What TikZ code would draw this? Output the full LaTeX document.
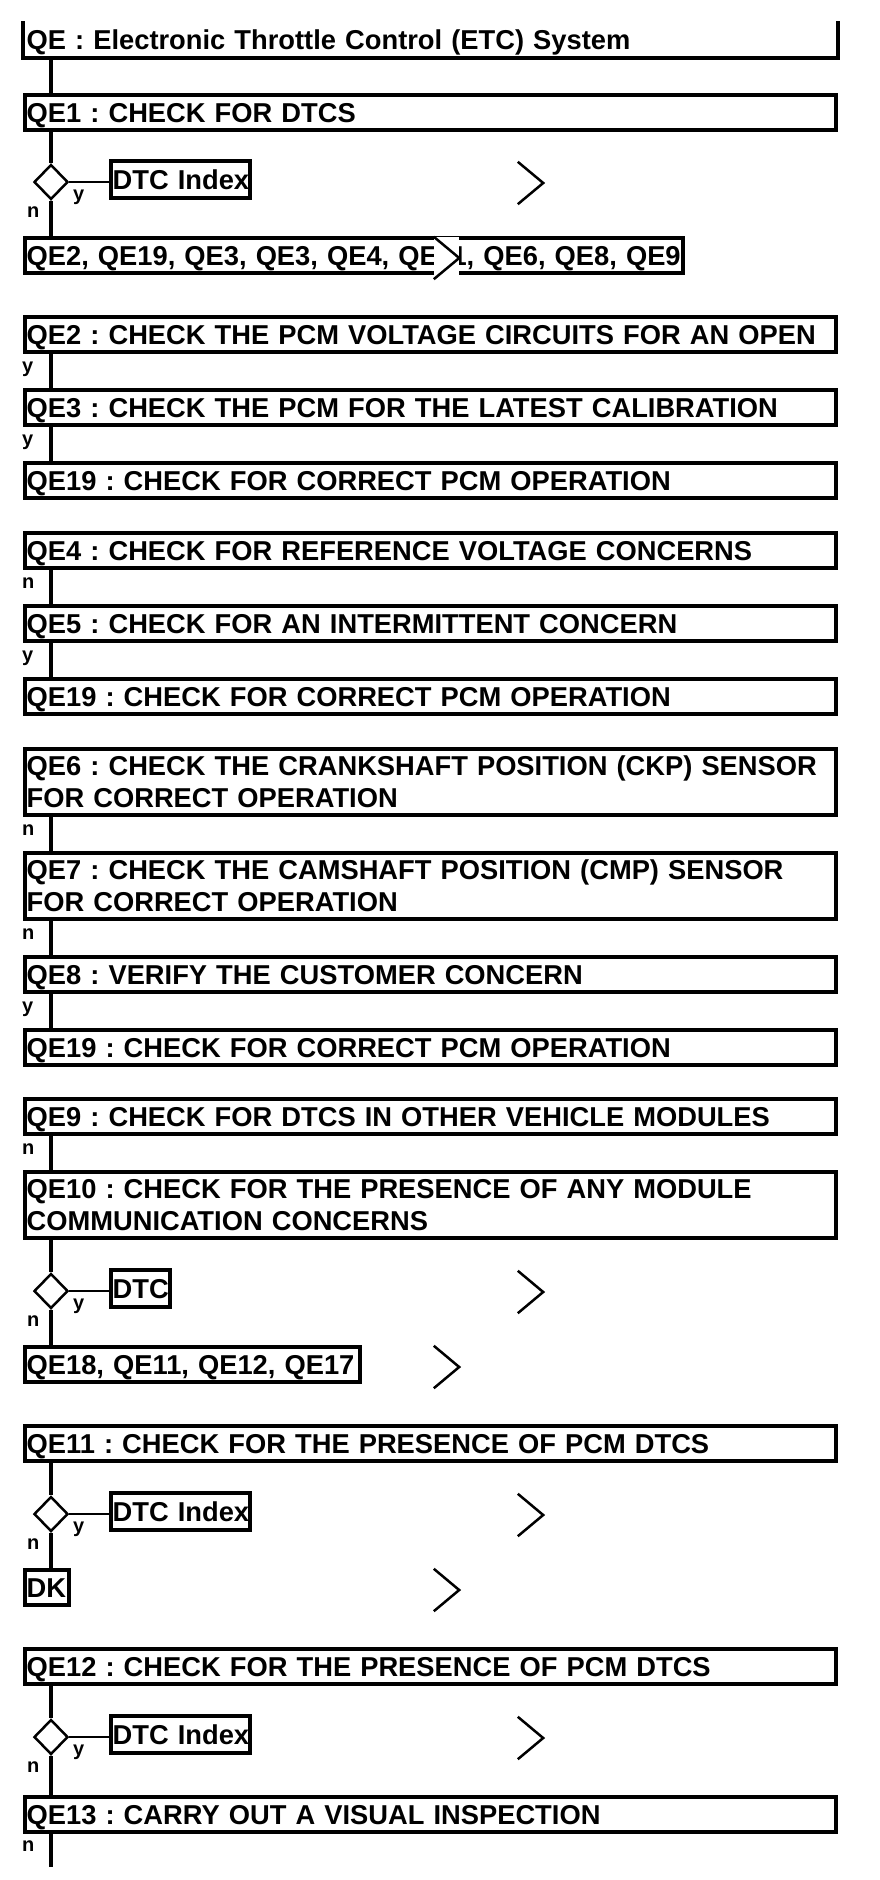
\documentclass[tikz,border=0pt]{standalone}
\usepackage{fontspec}
\setmainfont{Liberation Sans}
\usetikzlibrary{shapes.geometric}
\newcommand\boxfont{\fontsize{27.3pt}{32pt}\selectfont\bfseries\frenchspacing\hyphenpenalty=10000\relax}
\newcommand\labfont{\fontsize{20pt}{22pt}\selectfont\bfseries}
\tikzset{
 bx/.style={draw=black, line width=4.3pt, inner xsep=1.5pt, inner ysep=0pt, align=left, anchor=north west, font=\boxfont, text height=19.5pt, text depth=0pt, minimum height=35pt},
 bxtwo/.style={bx, minimum height=66pt, text depth=32pt},
 full/.style={text width=808pt},
 dia/.style={diamond, draw=black, line width=2.5pt, minimum width=34pt, minimum height=35pt, inner sep=0pt, fill=white},
 conn/.style={line width=3.8pt},
 hline/.style={line width=2.5pt},
 chev/.style={fill=white, minimum width=25pt, minimum height=42pt, inner sep=0pt},
 chevline/.style={line width=2.5pt, line join=miter},
 lab/.style={font=\labfont, inner sep=0pt, anchor=base west},
}
\begin{document}
\begin{tikzpicture}[x=1pt,y=-1pt]
\fill[white] (0,0) rectangle (880,1880);
\coordinate (sp) at (51,0);

% title (open top)
\node[bx, full, draw=none, minimum height=33pt] (t) at (23,21) {QE : Electronic Throttle Control (ETC) System};
\draw[line width=4.3pt] (t.north west) -- (t.south west) -- (t.south east) -- (t.north east);

% QE1 block
\node[bx, full] (qe1) at (23,93) {QE1 : CHECK FOR DTCS};
\node[dia] (d1) at (51,182) {};
\node[bx, anchor=west, text width=136pt, minimum height=37pt] (dtc1) at (109,179.5) {\mbox{DTC Index}};
\node[bx, text width=655pt] (l1) at (23,236) {\mbox{QE2, QE19, QE3, QE3, QE4, QE11, QE6, QE8, QE9}};
\draw[conn] (t.south -| sp) -- (qe1.north -| sp);
\draw[conn] (qe1.south -| sp) -- (d1.north);
\draw[conn] (d1.south) -- (l1.north -| sp);
\draw[hline] (d1.east) -- (d1.east -| dtc1.west);
\node[lab] (ly1) at (73,200) {y};
\node[lab] (ln1) at (27,217) {n};
\node[chev] (ca1) at (530.5,183) {};
\draw[chevline] (ca1.north west) -- (ca1.east) -- (ca1.south west);
\node[chev] (cb1) at (446.5,258) {};
\draw[chevline] (cb1.north west) -- (cb1.east) -- (cb1.south west);

% QE2 group
\node[bx, full] (qe2) at (23,315) {QE2 : CHECK THE PCM VOLTAGE CIRCUITS FOR AN OPEN};
\node[bx, full] (qe3) at (23,388) {QE3 : CHECK THE PCM FOR THE LATEST CALIBRATION};
\node[bx, full] (qe19a) at (23,461) {QE19 : CHECK FOR CORRECT PCM OPERATION};
\draw[conn] (qe2.south -| sp) -- (qe3.north -| sp);
\draw[conn] (qe3.south -| sp) -- (qe19a.north -| sp);
\node[lab] (ly2) at (22,372) {y};
\node[lab] (ly3) at (22,445) {y};

% QE4 group
\node[bx, full] (qe4) at (23,531) {QE4 : CHECK FOR REFERENCE VOLTAGE CONCERNS};
\node[bx, full] (qe5) at (23,604) {QE5 : CHECK FOR AN INTERMITTENT CONCERN};
\node[bx, full] (qe19b) at (23,677) {QE19 : CHECK FOR CORRECT PCM OPERATION};
\draw[conn] (qe4.south -| sp) -- (qe5.north -| sp);
\draw[conn] (qe5.south -| sp) -- (qe19b.north -| sp);
\node[lab] (ln4) at (22,588) {n};
\node[lab] (ly5) at (22,661) {y};

% QE6 group
\node[bxtwo, full] (qe6) at (23,747) {QE6 : CHECK THE CRANKSHAFT POSITION (CKP) SENSOR\\FOR CORRECT OPERATION};
\node[bxtwo, full] (qe7) at (23,851) {QE7 : CHECK THE CAMSHAFT POSITION (CMP) SENSOR\\FOR CORRECT OPERATION};
\node[bx, full] (qe8) at (23,955) {QE8 : VERIFY THE CUSTOMER CONCERN};
\node[bx, full] (qe19c) at (23,1028) {QE19 : CHECK FOR CORRECT PCM OPERATION};
\draw[conn] (qe6.south -| sp) -- (qe7.north -| sp);
\draw[conn] (qe7.south -| sp) -- (qe8.north -| sp);
\draw[conn] (qe8.south -| sp) -- (qe19c.north -| sp);
\node[lab] (ln6) at (22,835) {n};
\node[lab] (ln7) at (22,939) {n};
\node[lab] (ly8) at (22,1012) {y};

% QE9 group
\node[bx, full] (qe9) at (23,1097) {QE9 : CHECK FOR DTCS IN OTHER VEHICLE MODULES};
\node[bxtwo, full] (qe10) at (23,1170) {QE10 : CHECK FOR THE PRESENCE OF ANY MODULE\\COMMUNICATION CONCERNS};
\node[dia] (d2) at (51,1291) {};
\node[bx, anchor=west, text width=56pt, minimum height=37pt] (dtc2) at (109,1288.5) {\mbox{DTC}};
\node[bx, text width=332pt] (l2) at (23,1345) {\mbox{QE18, QE11, QE12, QE17}};
\draw[conn] (qe9.south -| sp) -- (qe10.north -| sp);
\draw[conn] (qe10.south -| sp) -- (d2.north);
\draw[conn] (d2.south) -- (l2.north -| sp);
\draw[hline] (d2.east) -- (d2.east -| dtc2.west);
\node[lab] (ln9) at (22,1154) {n};
\node[lab] (ly10) at (73,1309) {y};
\node[lab] (ln10) at (27,1326) {n};
\node[chev] (ca2) at (530.5,1292) {};
\draw[chevline] (ca2.north west) -- (ca2.east) -- (ca2.south west);
\node[chev] (cb2) at (446.5,1367) {};
\draw[chevline] (cb2.north west) -- (cb2.east) -- (cb2.south west);

% QE11 group
\node[bx, full] (qe11) at (23,1424) {QE11 : CHECK FOR THE PRESENCE OF PCM DTCS};
\node[dia] (d3) at (51,1514) {};
\node[bx, anchor=west, text width=136pt, minimum height=37pt] (dtc3) at (109,1511.5) {\mbox{DTC Index}};
\node[bx, text width=41pt] (dk) at (23,1568) {\mbox{DK}};
\draw[conn] (qe11.south -| sp) -- (d3.north);
\draw[conn] (d3.south) -- (dk.north -| sp);
\draw[hline] (d3.east) -- (d3.east -| dtc3.west);
\node[lab] (ly11) at (73,1532) {y};
\node[lab] (ln11) at (27,1549) {n};
\node[chev] (ca3) at (530.5,1515) {};
\draw[chevline] (ca3.north west) -- (ca3.east) -- (ca3.south west);
\node[chev] (cb3) at (446.5,1590) {};
\draw[chevline] (cb3.north west) -- (cb3.east) -- (cb3.south west);

% QE12 group
\node[bx, full] (qe12) at (23,1647) {QE12 : CHECK FOR THE PRESENCE OF PCM DTCS};
\node[dia] (d4) at (51,1737) {};
\node[bx, anchor=west, text width=136pt, minimum height=37pt] (dtc4) at (109,1734.5) {\mbox{DTC Index}};
\node[bx, full] (qe13) at (23,1795) {QE13 : CARRY OUT A VISUAL INSPECTION};
\coordinate (end) at (51,1867);
\draw[conn] (qe12.south -| sp) -- (d4.north);
\draw[conn] (d4.south) -- (qe13.north -| sp);
\draw[hline] (d4.east) -- (d4.east -| dtc4.west);
\draw[conn] (qe13.south -| sp) -- (end);
\node[lab] (ly12) at (73,1755) {y};
\node[lab] (ln12) at (27,1772) {n};
\node[lab] (ln13) at (22,1851) {n};
\node[chev] (ca4) at (530.5,1738) {};
\draw[chevline] (ca4.north west) -- (ca4.east) -- (ca4.south west);
\end{tikzpicture}
\end{document}
